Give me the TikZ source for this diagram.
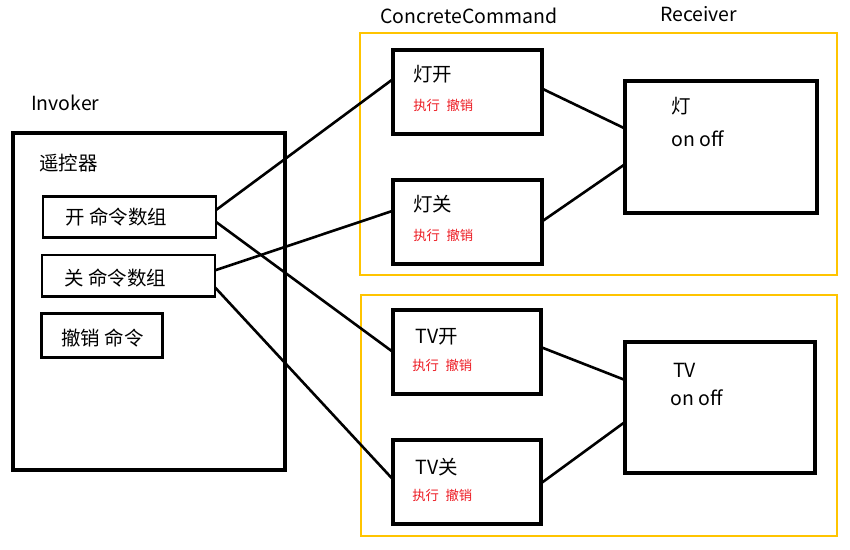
\documentclass[tikz,border=0pt]{standalone}
\usepackage{fontspec}
\setmainfont{Noto Sans CJK SC}
\usetikzlibrary{calc}
\definecolor{gold}{RGB}{255,196,0}
\definecolor{redtxt}{RGB}{237,28,36}
\begin{document}
\begin{tikzpicture}[x=0.75pt,y=-0.75pt,
  box/.style={draw, line width=3pt, outer sep=0pt, inner sep=0pt},
  sbox/.style={draw, line width=2.2pt, outer sep=0pt, inner sep=0pt},
  ybox/.style={draw=gold, line width=1.6pt, outer sep=0pt, inner sep=0pt},
  wh/.style 2 args={minimum width=#1*0.75pt, minimum height=#2*0.75pt},
  lbl/.style={anchor=west, inner sep=0pt, text height=0.8em, text depth=0.2em, yshift=-2.2pt, font=\fontsize{14.6}{16}\selectfont},
  cmdtxt/.style={anchor=west, inner sep=0pt, text height=0.8em, text depth=0.2em, yshift=-1.5pt, text=redtxt, font=\fontsize{10}{11}\selectfont},
  link/.style={line width=1.95pt}
]
\useasboundingbox (0,0) rectangle (850,550);
\fill[white] (0,0) rectangle (850,550);

% yellow groups
\node[ybox, wh={477}{242}] (y1) at (598.5,154) {};
\node[ybox, wh={476}{241}] (y2) at (599,415.5) {};

% boxes
\node[box, wh={272.3}{337}] (inv) at (148.85,301.5) {};
\node[sbox, wh={173}{41}] (kai) at (129.5,217) {};
\node[sbox, wh={173}{41.5}] (guan) at (128.5,275.75) {};
\node[sbox, wh={120.9}{43.5}] (undo) at (101.75,335.45) {};

\node[box, wh={148.5}{84.5}] (dk) at (467.25,91.75) {};
\node[box, wh={148.5}{84.5}] (dg) at (467.25,221.75) {};
\node[box, wh={191.5}{132}] (r1) at (720.75,147) {};
\node[box, wh={147.5}{84}] (tk) at (466.75,352) {};
\node[box, wh={147.5}{84}] (tg) at (466.75,482) {};
\node[box, wh={190}{131}] (r2) at (720,407.5) {};

% connectors
\draw[link] ($(kai.north east)!0.33!(kai.south east)$) -- ($(dk.north west)!0.35!(dk.south west)$);
\draw[link] ($(kai.north east)!0.62!(kai.south east)$) -- ($(tk.north west)!0.50!(tk.south west)$);
\draw[link] ($(guan.north east)!0.37!(guan.south east)$) -- ($(dg.north west)!0.37!(dg.south west)$);
\draw[link] ($(guan.north east)!0.78!(guan.south east)$) -- ($(tg.north west)!0.47!(tg.south west)$);
\draw[link] ($(dk.north east)!0.46!(dk.south east)$) -- ($(r1.north west)!0.36!(r1.south west)$);
\draw[link] ($(dg.north east)!0.50!(dg.south east)$) -- ($(r1.north west)!0.63!(r1.south west)$);
\draw[link] ($(tk.north east)!0.44!(tk.south east)$) -- ($(r2.north west)!0.29!(r2.south west)$);
\draw[link] ($(tg.north east)!0.52!(tg.south east)$) -- ($(r2.north west)!0.61!(r2.south west)$);

% labels
\node[lbl] (tinv) at (31,104) {Invoker};
\node[lbl] (tcc) at (380,16.5) {ConcreteCommand};
\node[lbl] (trc) at (660,15) {Receiver};
\node[lbl] (tyk) at (39,164) {遥控器};
\node[lbl] (tkai) at (65,218) {开 命令数组};
\node[lbl] (tguan) at (64,279) {关 命令数组};
\node[lbl] (tundo) at (61,339) {撤销 命令};

\node[lbl] (tdk) at (413,75) {灯开};
\node[cmdtxt] (cdk) at (413,104) {执行\enspace 撤销};
\node[lbl] (tdg) at (413,205) {灯关};
\node[cmdtxt] (cdg) at (413,234) {执行\enspace 撤销};
\node[lbl] (tr1) at (671,107) {灯};
\node[lbl] (tr1b) at (671,139.5) {on off};

\node[lbl] (ttk) at (415.5,336.5) {TV开};
\node[cmdtxt] (ctk) at (412,364) {执行\enspace 撤销};
\node[lbl] (ttg) at (415.5,467.5) {TV关};
\node[cmdtxt] (ctg) at (412,494) {执行\enspace 撤销};
\node[lbl] (tr2) at (673,371) {TV};
\node[lbl] (tr2b) at (670,399) {on off};
\end{tikzpicture}
\end{document}
